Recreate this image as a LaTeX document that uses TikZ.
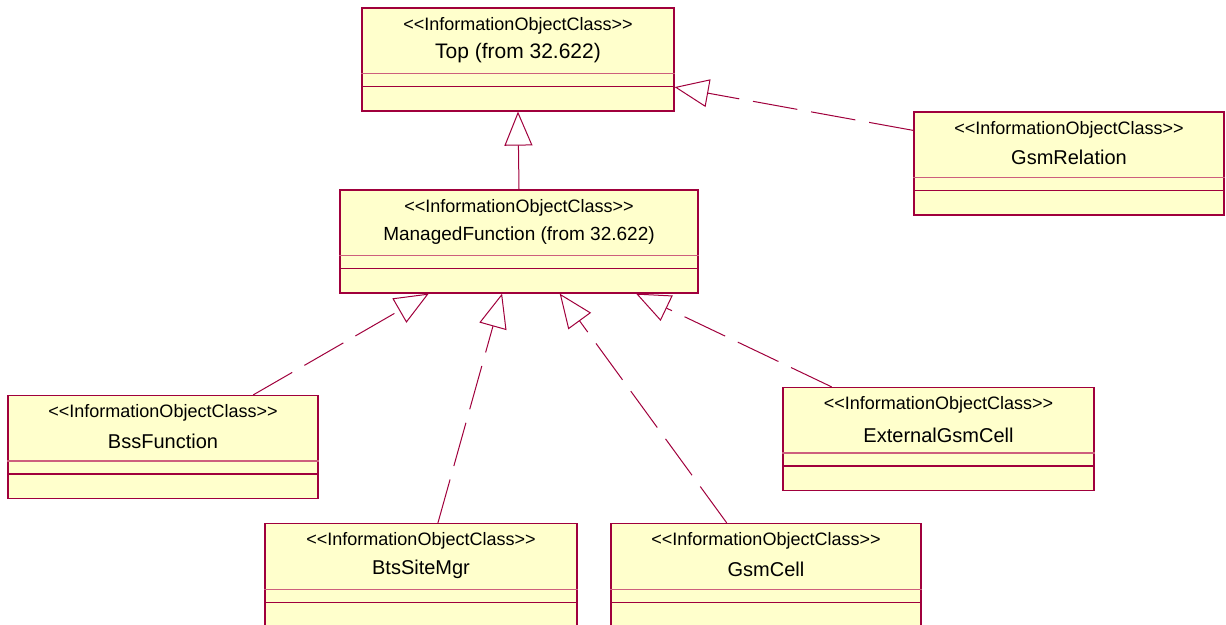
\documentclass[tikz,border=0pt]{standalone}
\usepackage{fontspec}
\setmainfont{Liberation Sans}[Ligatures=TeXOff]
\usepackage{tikz}
\usetikzlibrary{arrows.meta}

\definecolor{umlline}{RGB}{160,0,60}
\definecolor{umlcomp}{RGB}{205,95,125}
\definecolor{umlfill}{RGB}{255,255,204}

\tikzset{
  classbox/.style={draw=umlline, fill=umlfill, line width=0.6pt, minimum height=51.5pt, inner sep=0pt},
  stereo/.style={font=\fontsize{9}{10}\selectfont, inner sep=0pt},
  cname/.style={font=\fontsize{10}{12}\selectfont, inner sep=0pt},
  realize/.style={draw=umlline, line width=0.5pt, dash pattern=on 22.5pt off 7pt, -{Triangle[open, length=17pt, width=14pt]}},
  inherit/.style={draw=umlline, line width=0.5pt, -{Triangle[open, length=17pt, width=14pt]}}
}

\begin{document}
\begin{tikzpicture}[x=0.5pt, y=-0.5pt]
        \useasboundingbox (0,0) rectangle (1226,625);
        % classes
        \node [classbox, minimum width=156pt] (top) at (518,59.5) {};
        \node [classbox, minimum width=155pt] (gsmrel) at (1069,163.5) {};
        \node [classbox, minimum width=179pt] (mf) at (519,241.5) {};
        \node [classbox, minimum width=155pt] (bss) at (163,447) {};
        \node [classbox, minimum width=155.5pt] (ext) at (938.5,439) {};
        \node [classbox, minimum width=156pt] (bts) at (421,575) {};
        \node [classbox, minimum width=155pt] (cell) at (766,575) {};

        \foreach \c in {top,gsmrel,mf,bss,ext,bts,cell} {
            \node [stereo] (\c-st) at ([yshift=-9pt]\c.north) {<<InformationObjectClass>>};
            \draw [umlcomp, line width=0.6pt] ([yshift=19pt]\c.south west) -- ([yshift=19pt]\c.south east);
            \draw [umlline, line width=0.6pt] ([yshift=12.5pt]\c.south west) -- ([yshift=12.5pt]\c.south east);
        }

        \node [cname, font=\fontsize{10.5}{12}\selectfont] (top-n) at ([yshift=-23pt]top.north) {Top (from 32.622)};
        \node [cname] (gsmrel-n) at ([yshift=-23pt]gsmrel.north) {GsmRelation};
        \node [cname, font=\fontsize{9.5}{12}\selectfont] (mf-n) at ([yshift=-23pt]mf.north) {ManagedFunction (from 32.622)};
        \node [cname] (bss-n) at ([yshift=-23pt]bss.north) {BssFunction};
        \node [cname] (ext-n) at ([yshift=-24pt]ext.north) {ExternalGsmCell};
        \node [cname] (bts-n) at ([yshift=-23pt]bts.north) {BtsSiteMgr};
        \node [cname] (cell-n) at ([yshift=-23pt]cell.north) {GsmCell};

        % generalisations
        \draw [inherit] (mf.north) -- (top.south);
        \draw [realize] (gsmrel.168.5) -- (top.-10);
        \draw [realize] (bss.30.3) -- (mf.-150.5);
        \draw [realize] (bts.72.7) -- (mf.-108.3);
        \draw [realize] (cell.127.8) -- (mf.-52.9);
        \draw [realize] (ext.154.8) -- (mf.-24.9);
    \end{tikzpicture}
\end{document}
